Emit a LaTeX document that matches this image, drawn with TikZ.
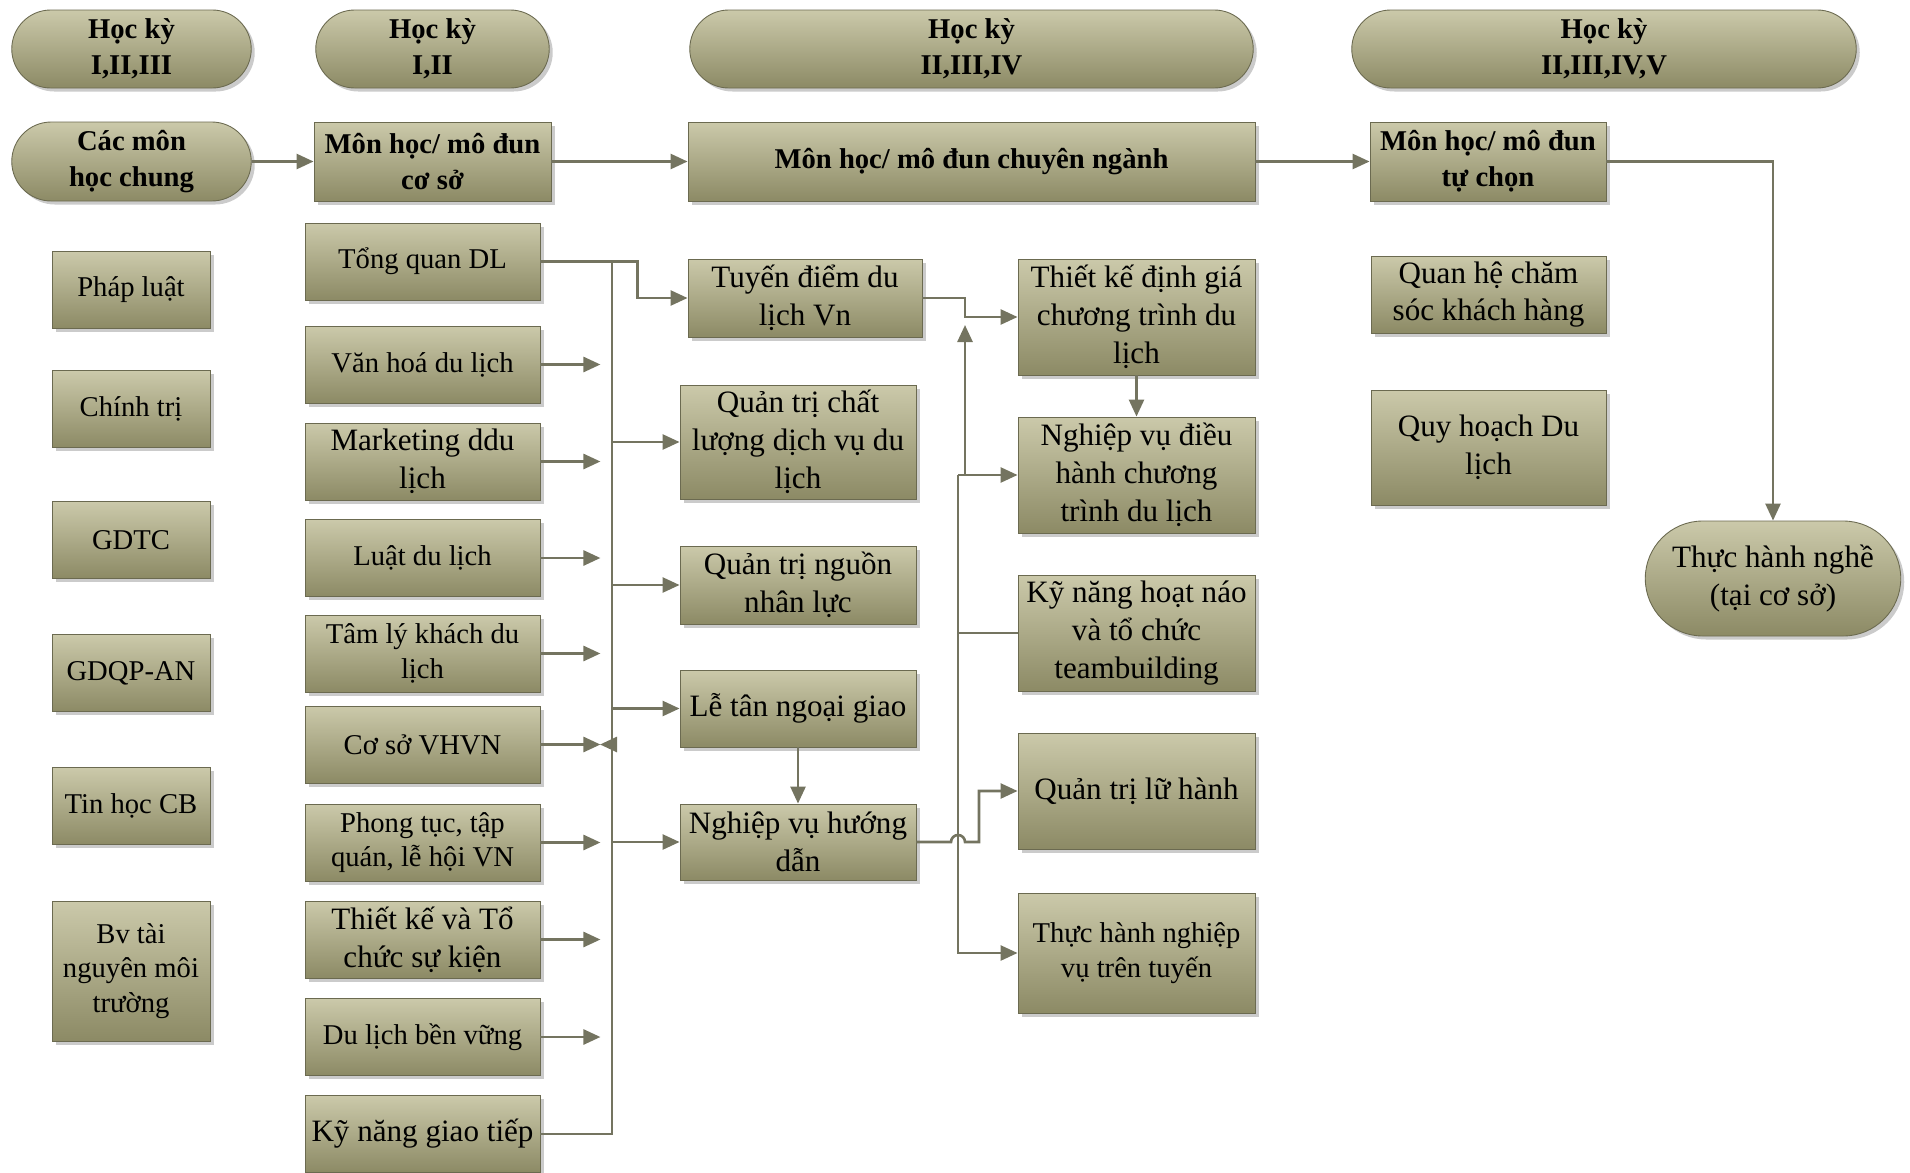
\documentclass[tikz,border=0pt]{standalone}
\usepackage{fontspec}
\setmainfont{Liberation Serif}
\usetikzlibrary{arrows.meta,shapes.misc,shadows,positioning}

\definecolor{boxtop}{HTML}{CBC9AA}
\definecolor{boxbot}{HTML}{8C8A65}
\definecolor{boxline}{HTML}{6B6A50}
\definecolor{wirec}{HTML}{747460}

\begin{document}
\begin{tikzpicture}[
                        x=0.02cm, y=-0.02cm,
                        every node/.style={font=\fontsize{16.3}{19.5}\selectfont},
                        box/.style={rectangle, draw=boxline, line width=0.5pt,
                            top color=boxtop, bottom color=boxbot,
                            align=center, inner sep=1pt,
                            drop shadow={shadow xshift=0.07cm, shadow yshift=-0.07cm,
                                fill=black!45, opacity=0.45}},
                        pill/.style={box, rounded rectangle},
                        head/.style={font=\fontsize{16.3}{20.5}\selectfont\bfseries},
                        bigtxt/.style={font=\fontsize{17.7}{21.5}\selectfont},
                        sz/.style 2 args={minimum width=#1*0.02cm, minimum height=#2*0.02cm},
                        link/.style={draw=wirec, line width=1.5pt},
                        arr/.style={-{Triangle[length=0.34cm,width=0.3cm]}}
                    ]
                    \useasboundingbox (0,0) rectangle (1910,1173);

                    % semesters
                    \node[pill,head,sz={243}{78}] (hk1) at (131.5,49)  {Học kỳ\\I,II,III};
                    \node[pill,head,sz={237}{78}] (hk2) at (432.5,49)  {Học kỳ\\I,II};
                    \node[pill,head,sz={567}{78}] (hk3) at (971.5,49)  {Học kỳ\\II,III,IV};
                    \node[pill,head,sz={508}{78}] (hk4) at (1604,49)   {Học kỳ\\II,III,IV,V};

                    % groups
                    \node[pill,head,sz={243}{79}] (chung)  at (131.5,161.5) {Các môn\\học chung};
                    \node[box,head,sz={237}{79}]  (coso)   at (432.5,161.5) {Môn học/ mô đun\\cơ sở};
                    \node[box,head,sz={567}{79}]  (chuyen) at (971.5,161.5) {Môn học/ mô đun chuyên ngành};
                    \node[box,head,sz={236}{79}]  (tuchon) at (1488,161.5)  {Môn học/ mô đun\\tự chọn};

                    % general
                    \node[box,sz={158}{77}]  (pl)   at (131,290) {Pháp luật};
                    \node[box,sz={158}{77}]  (ct)   at (131,409) {Chính trị};
                    \node[box,sz={158}{77}]  (gdtc) at (131,540) {GDTC};
                    \node[box,sz={158}{77}]  (gdqp) at (131,673) {GDQP-AN};
                    \node[box,sz={158}{77}]  (th)   at (131,806) {Tin học CB};
                    \node[box,sz={158}{140}] (bv)   at (131,971) {Bv tài\\nguyên môi\\trường};

                    % base
                    \node[box,sz={235}{77}]        (tq)   at (422.5,261.5)  {Tổng quan DL};
                    \node[box,sz={235}{77}]        (vh)   at (422.5,364.5)  {Văn hoá du lịch};
                    \node[box,bigtxt,sz={235}{77}] (mk)   at (422.5,461.5)  {Marketing ddu\\lịch};
                    \node[box,sz={235}{77}]        (ld)   at (422.5,558)    {Luật du lịch};
                    \node[box,sz={235}{77}]        (tl)   at (422.5,653.5)  {Tâm lý khách du\\lịch};
                    \node[box,sz={235}{77}]        (vhvn) at (422.5,744.5)  {Cơ sở VHVN};
                    \node[box,sz={235}{77}]        (pt)   at (422.5,842.5)  {Phong tục, tập\\quán, lễ hội VN};
                    \node[box,bigtxt,sz={235}{77}] (tk)   at (422.5,939.5)  {Thiết kế và Tổ\\chức sự kiện};
                    \node[box,sz={235}{77}]        (blbv) at (422.5,1037)   {Du lịch bền vững};
                    \node[box,bigtxt,sz={235}{77}] (gt)   at (422.5,1134)   {Kỹ năng giao tiếp};

                    % major
                    \node[box,bigtxt,sz={234}{78}]  (td)   at (805,298)  {Tuyến điểm du\\lịch Vn};
                    \node[box,bigtxt,sz={236}{114}] (qtcl) at (798,442)  {Quản trị chất\\lượng dịch vụ du\\lịch};
                    \node[box,bigtxt,sz={236}{78}]  (qtnl) at (798,585)  {Quản trị nguồn\\nhân lực};
                    \node[box,bigtxt,sz={236}{77}]  (lt)   at (798,708.5){Lễ tân ngoại giao};
                    \node[box,bigtxt,sz={236}{76}]  (nvhd) at (798,842)  {Nghiệp vụ hướng\\dẫn};

                    \node[box,bigtxt,sz={237}{116}] (tkdg) at (1136.5,317) {Thiết kế định giá\\chương trình du\\lịch};
                    \node[box,bigtxt,sz={237}{116}] (nvdh) at (1136.5,475) {Nghiệp vụ điều\\hành chương\\trình du lịch};
                    \node[box,bigtxt,sz={237}{116}] (kn)   at (1136.5,633) {Kỹ năng hoạt náo\\và tổ chức\\teambuilding};
                    \node[box,bigtxt,sz={237}{116}] (qtlh) at (1136.5,791) {Quản trị lữ hành};
                    \node[box,sz={237}{120}]        (thnv) at (1136.5,953) {Thực hành nghiệp\\vụ trên tuyến};

                    % optional
                    \node[box,bigtxt,sz={235}{77}]   (qh)   at (1488.5,294.5) {Quan hệ chăm\\sóc khách hàng};
                    \node[box,bigtxt,sz={235}{115}]  (qhdl) at (1488.5,447.5) {Quy hoạch Du\\lịch};
                    \node[pill,bigtxt,sz={259}{115}] (thn)  at (1773,578.5)   {Thực hành nghề\\(tại cơ sở)};

                    \coordinate (bus)  at (612,0);
                    \coordinate (busl) at (958,0);
                    \coordinate (busr) at (965,0);

                    \draw[link,arr] (chung) -- (coso);
                    \draw[link,arr] (coso) -- (chuyen);
                    \draw[link,arr] (chuyen) -- (tuchon);
                    \draw[link,arr] (tuchon.east) -| (thn.north);

                    \foreach \n in {vh,mk,ld,tl,vhvn,pt,tk,blbv}
                        \draw[link,arr] (\n.east) -- ++(60,0);
                    \draw[link,arr] (tq.east) -- ++(97,0) |- (td.west);
                    \draw[link] (bus |- tq.east) -- (bus |- gt.east) -- (gt.east);
                    \foreach \n in {qtcl,qtnl,lt,nvhd}
                        \draw[link,arr] (bus |- \n.west) -- (\n.west);
                    \draw[link,arr] (bus |- vhvn.east) -- ++(-12,0);
                    \draw[link,arr] (lt) -- (nvhd);

                    \draw[link,arr] (td.east) -| (busr |- tkdg.west) -- (tkdg.west);
                    \draw[link,arr] (busl |- nvdh.west) -- (busr |- nvdh.west) -- ++(0,-150);
                    \draw[link,arr] (busl |- nvdh.west) -- (nvdh.west);
                    \draw[link,arr] (busl |- nvdh.west) -- (busl |- thnv.west) -- (thnv.west);
                    \draw[link] (busl |- kn.west) -- (kn.west);
                    \draw[link,arr] (nvhd.east) -- ([xshift=-0.14cm]busl |- nvhd.east)
                        arc[start angle=180, end angle=0, radius=0.14cm]
                        -- ([xshift=0.42cm]busl |- nvhd.east) |- (qtlh.west);
                    \draw[link,arr] (tkdg) -- (nvdh);

                \end{tikzpicture}
\end{document}
